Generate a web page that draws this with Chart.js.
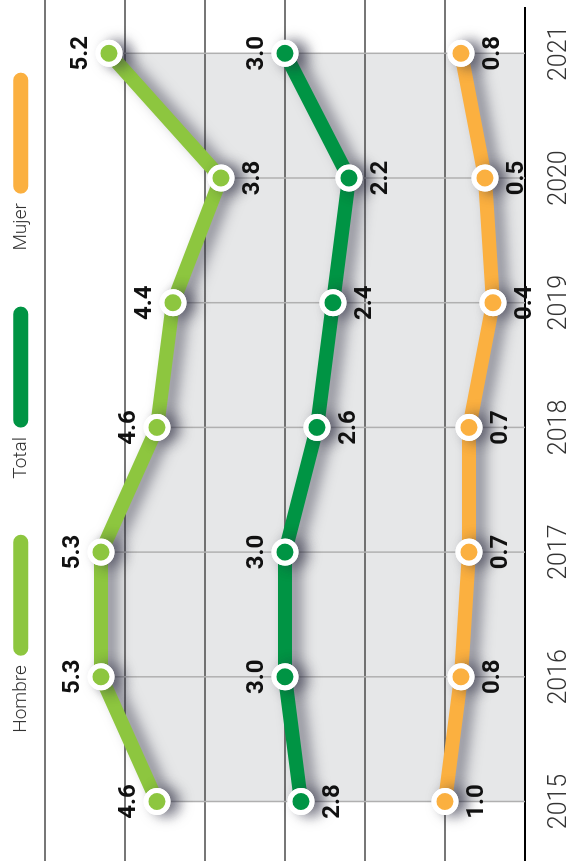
<!DOCTYPE html>
<html><head><meta charset="utf-8">
<script src="https://cdn.jsdelivr.net/npm/chart.js@4"></script>
<style>
html,body{margin:0;padding:0;background:#fff;overflow:hidden;width:572px;height:861px;}
#wrap{position:absolute;left:0;top:0;width:861px;height:572px;transform-origin:0 0;transform:translateY(861px) rotate(-90deg);}
</style></head><body>
<div id="wrap"><canvas id="c" width="861" height="572"></canvas></div>
<script>
// ---- data ----
const years = ['2015', '2016', '2017', '2018', '2019', '2020', '2021'];
const hombre = [4.6, 5.3, 5.3, 4.6, 4.4, 3.8, 5.2];
const total  = [2.8, 3.0, 3.0, 2.6, 2.4, 2.2, 3.0];
const mujer  = [1.0, 0.8, 0.7, 0.7, 0.4, 0.5, 0.8];
const seriesNames = ['Hombre', 'Total', 'Mujer'];
const valueTicks = [0, 1, 2, 3, 4, 5, 6];

// ---- style ----
const colors = ['#8DC63F', '#009444', '#FBB040'];
const fillGray = '#E6E7E8';
// label side per point: 'a' above the point, 'b' below
const labelSides = [
  ['a', 'a', 'a', 'a', 'a', 'b', 'a'],
  ['b', 'a', 'a', 'b', 'b', 'b', 'a'],
  ['b', 'b', 'b', 'b', 'b', 'b', 'b']
];
const FONT = 'Roboto, "Liberation Sans", sans-serif';

const gridPlugin = {
  id: 'fullGrid',
  beforeDatasetsDraw(chart) {
    const ctx = chart.ctx, ys = chart.scales.y;
    ctx.save();
    valueTicks.forEach(v => {
      const y = ys.getPixelForValue(v);
      ctx.beginPath();
      if (v === 0) { ctx.strokeStyle = '#000'; ctx.lineWidth = 2.2; ctx.moveTo(0, y); ctx.lineTo(chart.width - 7, y); }
      else { ctx.strokeStyle = '#4a4a4a'; ctx.lineWidth = 1.3; ctx.moveTo(0, y); ctx.lineTo(chart.width, y); }
      ctx.stroke();
    });
    const meta = chart.getDatasetMeta(0);
    const y0 = ys.getPixelForValue(0);
    ctx.strokeStyle = '#b0b0b0'; ctx.lineWidth = 1.5;
    meta.data.forEach(pt => {
      ctx.beginPath(); ctx.moveTo(pt.x, pt.y); ctx.lineTo(pt.x, y0); ctx.stroke();
    });
    ctx.restore();
  }
};

const shadowPlugin = {
  id: 'lineShadow',
  beforeDatasetDraw(chart) {
    const ctx = chart.ctx;
    ctx.save();
    ctx.shadowColor = 'rgba(40,40,60,0.5)';
    ctx.shadowBlur = 14;
    ctx.shadowOffsetX = -1;
    ctx.shadowOffsetY = 9;
  },
  afterDatasetDraw(chart, args) {
    const ctx = chart.ctx;
    ctx.restore();
    // redraw the points cleanly on top (no shadow inside the markers)
    args.meta.data.forEach(pt => pt.draw(ctx, chart.chartArea));
  }
};

const labelPlugin = {
  id: 'valueLabels',
  afterDatasetsDraw(chart) {
    const ctx = chart.ctx;
    ctx.save();
    ctx.font = 'bold 24px ' + FONT;
    ctx.fillStyle = '#111';
    ctx.textAlign = 'center';
    ctx.textBaseline = 'middle';
    chart.data.datasets.forEach((ds, di) => {
      chart.getDatasetMeta(di).data.forEach((pt, i) => {
        const above = labelSides[di][i] === 'a';
        ctx.fillText(ds.data[i].toFixed(1), pt.x, above ? pt.y - 28 : pt.y + 32);
      });
    });
    ctx.restore();
  }
};

const seriesData = [hombre, total, mujer];
const datasets = seriesData.map((d, i) => ({
  label: seriesNames[i],
  data: d,
  borderColor: colors[i],
  backgroundColor: i === 0 ? fillGray : colors[i],
  fill: i === 0 ? 'origin' : false,
  borderWidth: 14,
  borderJoinStyle: 'round',
  borderCapStyle: 'round',
  tension: 0,
  pointRadius: 11,
  pointBorderWidth: 5,
  pointBackgroundColor: colors[i],
  pointBorderColor: '#fff',
  clip: false
}));

new Chart(document.getElementById('c'), {
  type: 'line',
  data: { labels: years, datasets },
  options: {
    responsive: false,
    animation: false,
    events: [],
    layout: { padding: { top: -44.7, left: 59.5, right: 3.9, bottom: 0 } },
    plugins: {
      filler: { drawTime: 'beforeDraw' },
      tooltip: { enabled: false },
      legend: {
        position: 'top',
        align: 'center',
        rtl: true,
        reverse: true,
        labels: {
          boxWidth: 121,
          boxHeight: 15,
          padding: 56,
          color: '#333',
          font: { family: FONT, size: 19, weight: '300' },
          generateLabels: chart => chart.data.datasets.map((ds, i) => ({
            text: ds.label,
            fillStyle: colors[i],
            strokeStyle: colors[i],
            lineWidth: 0,
            borderRadius: 7.5,
            datasetIndex: i,
            hidden: false,
            fontColor: '#333'
          }))
        }
      }
    },
    scales: {
      x: {
        grid: { display: false, drawTicks: false },
        border: { display: false },
        ticks: { color: '#333', font: { family: FONT, size: 25, weight: '300' }, padding: 20, maxRotation: 0, autoSkip: false },
        afterFit: s => { s.height = 47; }
      },
      y: {
        position: 'right',
        min: 0,
        max: 6.059,
        grid: { display: false, drawTicks: false },
        border: { display: false },
        ticks: { display: false },
        afterFit: s => { s.width = 49.4; }
      }
    }
  },
  plugins: [gridPlugin, shadowPlugin, labelPlugin]
});
</script>
</body></html>
